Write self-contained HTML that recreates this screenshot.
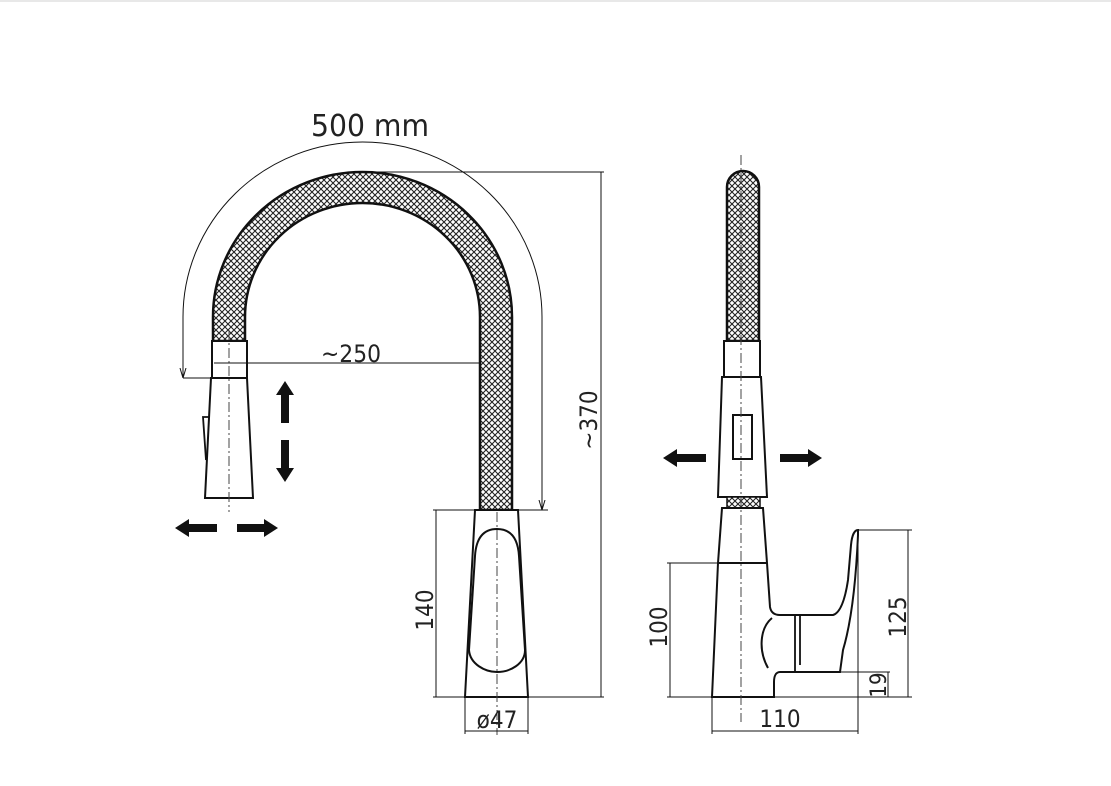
<!DOCTYPE html>
<html><head><meta charset="utf-8"><style>
html,body{margin:0;padding:0;background:#fff;}
svg{display:block}
text{font-family:"DejaVu Sans Condensed","Liberation Sans Narrow","Liberation Sans",sans-serif;fill:#222;font-weight:normal}
</style></head><body>
<svg width="1111" height="786" viewBox="0 0 1111 786" xmlns="http://www.w3.org/2000/svg">
<defs>
<pattern id="mesh" width="6" height="6" patternUnits="userSpaceOnUse">
<rect width="6" height="6" fill="#fff"/>
<path d="M0,0 L6,6 M6,0 L0,6" stroke="#222" stroke-width="1.1"/>
</pattern>
<marker id="ah" viewBox="0 0 10 10" refX="10" refY="5" markerWidth="10" markerHeight="10" orient="auto" markerUnits="userSpaceOnUse">
<path d="M0,2 L10,5 L0,8" fill="none" stroke="#111" stroke-width="1"/>
</marker>
</defs>
<rect x="0" y="0" width="1111" height="2" fill="#e8e8e8"/>

<!-- front hose -->
<path d="M213,341 L213,317 A149.5,145 0 0 1 512,317 L512,510 L480,510 L480,317 A117.5,114 0 0 0 245,317 L245,341 Z" fill="url(#mesh)" stroke="#111" stroke-width="2.5"/>

<!-- 500 mm arc dim -->
<path d="M183,378 L183,317 A179.5,175 0 0 1 542,317 L542,510" fill="none" stroke="#111" stroke-width="1" marker-end="url(#ah)"/>
<path d="M183,330 L183,378" fill="none" stroke="#111" stroke-width="1" marker-end="url(#ah)"/>
<text x="370" y="136" font-size="30" text-anchor="middle" textLength="118" lengthAdjust="spacingAndGlyphs">500  mm</text>
<line x1="517" y1="510" x2="548" y2="510" stroke="#111" stroke-width="1"/>

<!-- left spout head -->
<rect x="212" y="341" width="35" height="37" fill="#fff" stroke="#111" stroke-width="2"/>
<path d="M211,378 L247,378 L253,498 L205,498 Z" fill="#fff" stroke="#111" stroke-width="2"/>
<path d="M210,417 L203,417 L206,460" fill="none" stroke="#111" stroke-width="1.8"/>
<line x1="229" y1="330" x2="229" y2="512" stroke="#444" stroke-width="1" stroke-dasharray="10,3,2,3"/>
<line x1="183" y1="378" x2="212" y2="378" stroke="#111" stroke-width="1"/>

<!-- ~250 -->
<line x1="214" y1="363" x2="480" y2="363" stroke="#111" stroke-width="1"/>
<text x="351" y="362" font-size="24" text-anchor="middle" textLength="60" lengthAdjust="spacingAndGlyphs">~250</text>

<!-- arrows left -->
<path d="M285,381 L294,395 L289,395 L289,423 L281,423 L281,395 L276,395 Z" fill="#111"/>
<path d="M285,482 L294,468 L289,468 L289,440 L281,440 L281,468 L276,468 Z" fill="#111"/>
<path d="M175,528 L189,519 L189,524 L217,524 L217,532 L189,532 L189,537 Z" fill="#111"/>
<path d="M278,528 L264,519 L264,524 L237,524 L237,532 L264,532 L264,537 Z" fill="#111"/>

<!-- front base -->
<path d="M475,510 L518,510 L528,697 L465,697 Z" fill="#fff" stroke="#111" stroke-width="2"/>
<path d="M497,529 C482,529 476,540 475,556 L469,650 C470,664 485,672 497,672 C510,672 525,664 525,650 L519,556 C518,540 512,529 497,529 Z" fill="#fff" stroke="#111" stroke-width="2"/>
<line x1="497" y1="512" x2="497" y2="735" stroke="#444" stroke-width="1" stroke-dasharray="10,3,2,3"/>

<!-- 140 -->
<line x1="433" y1="510" x2="475" y2="510" stroke="#111" stroke-width="1"/>
<line x1="433" y1="697" x2="465" y2="697" stroke="#111" stroke-width="1"/>
<line x1="436" y1="510" x2="436" y2="697" stroke="#111" stroke-width="1"/>
<text transform="translate(433,610) rotate(-90)" font-size="24" text-anchor="middle">140</text>
<!-- ø47 -->
<line x1="465" y1="697" x2="465" y2="734" stroke="#111" stroke-width="1"/>
<line x1="528" y1="697" x2="528" y2="734" stroke="#111" stroke-width="1"/>
<line x1="465" y1="731" x2="528" y2="731" stroke="#111" stroke-width="1"/>
<text x="497" y="728" font-size="24" text-anchor="middle">ø47</text>

<!-- ~370 -->
<line x1="362" y1="172" x2="604" y2="172" stroke="#111" stroke-width="1"/>
<line x1="528" y1="697" x2="604" y2="697" stroke="#111" stroke-width="1"/>
<line x1="601" y1="172" x2="601" y2="697" stroke="#111" stroke-width="1"/>
<text transform="translate(597,420) rotate(-90)" font-size="24" text-anchor="middle">~370</text>

<!-- side view -->
<path d="M727,341 L727,187 A16,16 0 0 1 759,187 L759,341 Z" fill="url(#mesh)" stroke="#111" stroke-width="2.5"/>
<rect x="724" y="341" width="36" height="36" fill="#fff" stroke="#111" stroke-width="2"/>
<path d="M722,377 L761,377 L767,497 L718,497 Z" fill="#fff" stroke="#111" stroke-width="2"/>
<rect x="733" y="415" width="19" height="44" fill="#fff" stroke="#111" stroke-width="2"/>
<rect x="727" y="497" width="33" height="11" fill="url(#mesh)" stroke="#111" stroke-width="1.5"/>
<!-- lower body -->
<path d="M722,508 L763,508 L767,563 L770,607 C771,613 775,615 780,615 L833,615 C840,613 845,600 848,580 L851,545 C852,534 855,530 858,530 L858,535 C856,580 852,620 843,650 L840,672 L808,672 L780,672 C776,672 774,676 774,682 L774,697 L712,697 L718,563 Z" fill="#fff" stroke="#111" stroke-width="2"/>
<line x1="718" y1="563" x2="767" y2="563" stroke="#111" stroke-width="2"/>
<path d="M795,615 L795,672 M800,615 L800,665" stroke="#111" stroke-width="1.8" fill="none"/>
<path d="M772,618 C760,628 758,650 768,668" fill="none" stroke="#111" stroke-width="2"/>
<line x1="741" y1="155" x2="741" y2="722" stroke="#444" stroke-width="1" stroke-dasharray="10,3,2,3"/>

<!-- side arrows -->
<path d="M663,458 L677,449 L677,454 L706,454 L706,462 L677,462 L677,467 Z" fill="#111"/>
<path d="M822,458 L808,449 L808,454 L780,454 L780,462 L808,462 L808,467 Z" fill="#111"/>

<!-- 100 -->
<line x1="667" y1="563" x2="718" y2="563" stroke="#111" stroke-width="1"/>
<line x1="667" y1="697" x2="712" y2="697" stroke="#111" stroke-width="1"/>
<line x1="670" y1="563" x2="670" y2="697" stroke="#111" stroke-width="1"/>
<text transform="translate(667,627) rotate(-90)" font-size="24" text-anchor="middle">100</text>
<!-- 125 -->
<line x1="858" y1="530" x2="912" y2="530" stroke="#111" stroke-width="1"/>
<line x1="774" y1="697" x2="912" y2="697" stroke="#111" stroke-width="1"/>
<line x1="908" y1="530" x2="908" y2="697" stroke="#111" stroke-width="1"/>
<text transform="translate(906,617) rotate(-90)" font-size="24" text-anchor="middle">125</text>
<!-- 19 -->
<line x1="840" y1="672" x2="890" y2="672" stroke="#111" stroke-width="1"/>
<line x1="888" y1="672" x2="888" y2="697" stroke="#111" stroke-width="1"/>
<text transform="translate(886,685) rotate(-90)" font-size="22" text-anchor="middle">19</text>
<!-- 110 -->
<line x1="712" y1="697" x2="712" y2="734" stroke="#111" stroke-width="1"/>
<line x1="858" y1="530" x2="858" y2="734" stroke="#111" stroke-width="1"/>
<line x1="712" y1="731" x2="858" y2="731" stroke="#111" stroke-width="1"/>
<text x="780" y="727" font-size="24" text-anchor="middle">110</text>
</svg>
</body></html>
